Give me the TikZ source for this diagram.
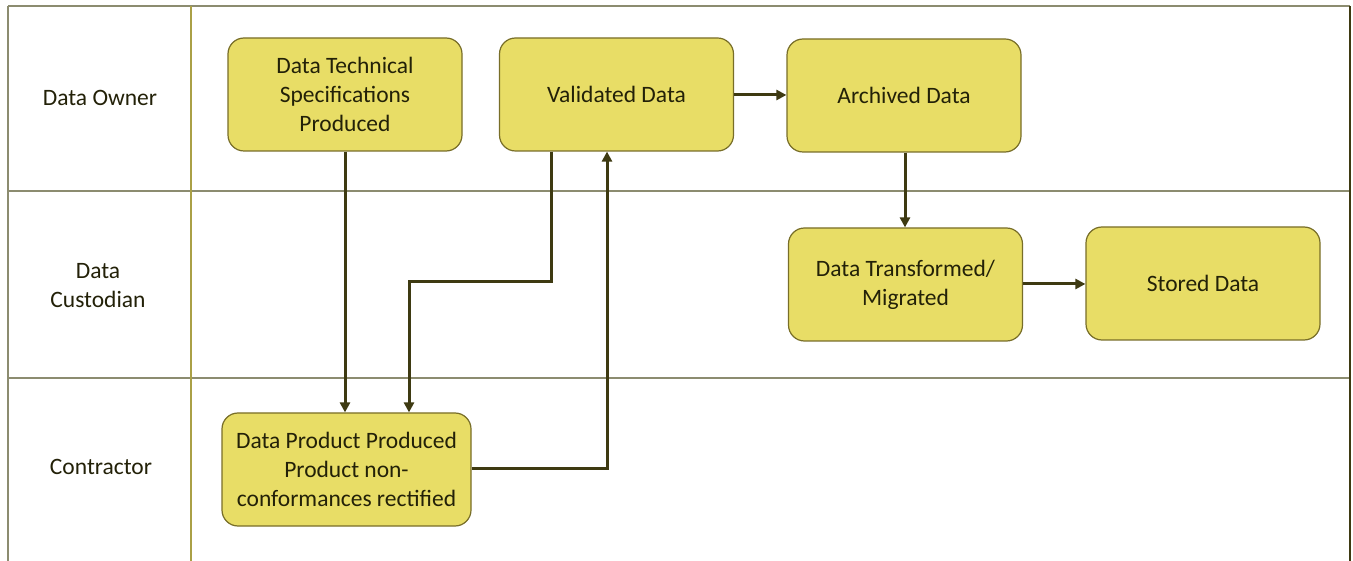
\documentclass[tikz,border=0pt]{standalone}
\usepackage{fontspec}
\setmainfont{Carlito}
\usetikzlibrary{arrows.meta}
\definecolor{boxfill}{RGB}{232,221,102}
\definecolor{boxline}{RGB}{120,110,40}
\definecolor{flow}{RGB}{62,58,18}
\definecolor{lane}{RGB}{140,140,112}
\definecolor{divider}{RGB}{170,160,70}
\definecolor{labeltext}{RGB}{35,33,8}
\tikzset{
  stepbox/.style={draw=boxline, line width=1.2pt, fill=boxfill, rounded corners=16pt,
    minimum width=#1, minimum height=113pt, align=center, inner sep=2pt,
    font=\fontsize{23.5}{29}\selectfont, text=labeltext},
  stepbox/.default=234pt,
  lanelabel/.style={align=center, font=\fontsize{23.5}{29}\selectfont, text=labeltext},
  flowline/.style={draw=flow, line width=3pt, -{Triangle[length=10pt,width=10pt]}},
}
\begin{document}
\begin{tikzpicture}[x=1pt,y=-1pt]
\useasboundingbox (0,0) rectangle (1353,561);
\fill[white] (0,0) rectangle (1353,561);
% swimlane grid
\draw[lane, line width=1.5pt] (8,6) -- (1350,6);
\draw[lane, line width=1.5pt] (8,191) -- (1350,191);
\draw[lane, line width=1.5pt] (8,378) -- (1350,378);
\draw[lane, line width=1.5pt] (8,6) -- (8,561);
\draw[divider, line width=1.5pt] (191,6) -- (191,561);
\draw[flow, line width=2.5pt] (1350,6) -- (1350,561);
% lane titles
\node[lanelabel] (owner) at (100,98) {Data Owner};
\node[lanelabel] (custodian) at (98,286) {Data\\Custodian};
\node[lanelabel] (contractor) at (101,467) {Contractor};
% process steps
\node[stepbox] (spec) at (345,94.5) {Data Technical\\Specifications\\Produced};
\node[stepbox] (valid) at (616.5,94.5) {Validated Data};
\node[stepbox] (arch) at (904,95.5) {Archived Data};
\node[stepbox] (trans) at (905.5,284.5) {Data Transformed/\\Migrated};
\node[stepbox] (store) at (1203,283.5) {Stored Data};
\node[stepbox=249pt] (prod) at (346.5,469.5) {Data Product Produced\\Product non-\\conformances rectified};
% connectors
\draw[flowline] (spec.south -| 345,0) -- (prod.north -| 345,0);
\coordinate (vturn) at (551,282);
\draw[flowline] (valid.south -| vturn) -- (vturn) -- (409,282) -- (prod.north -| 409,0);
\coordinate (pturn) at (607,468);
\draw[flowline] (prod.east |- pturn) -- (pturn) -- (valid.south -| pturn);
\draw[flowline] (valid.east |- 0,95) -- (arch.west |- 0,95);
\draw[flowline] (arch.south -| 905,0) -- (trans.north -| 905,0);
\draw[flowline] (trans.east |- 0,284) -- (store.west |- 0,284);
\end{tikzpicture}
\end{document}
